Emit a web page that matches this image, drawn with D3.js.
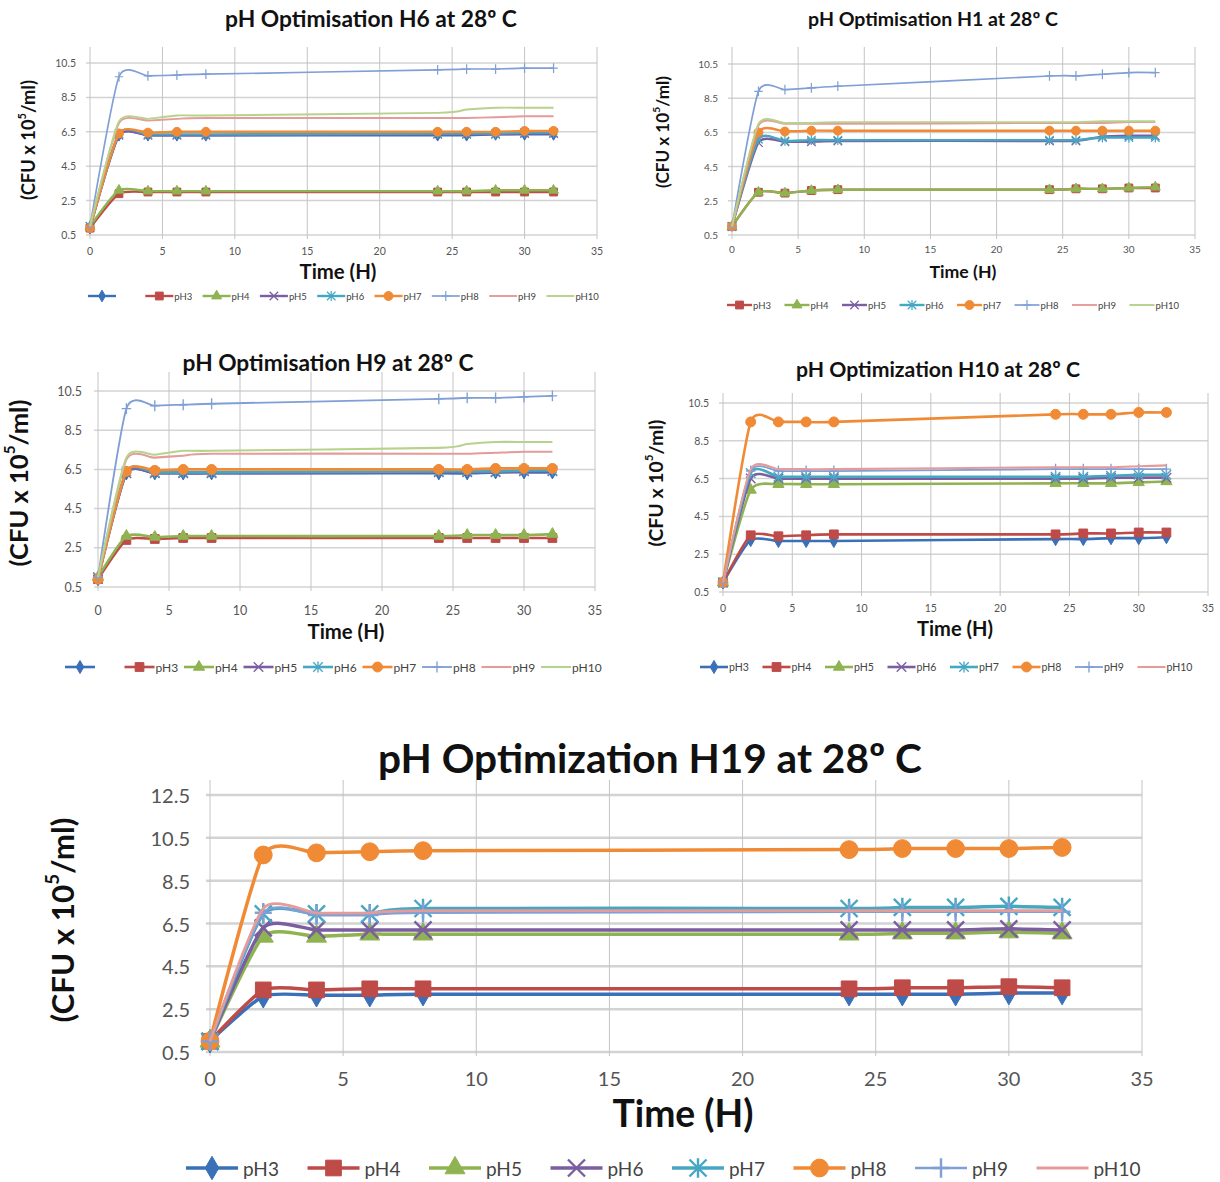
<!DOCTYPE html>
<html>
<head>
<meta charset="utf-8">
<script src="https://cdn.jsdelivr.net/npm/d3@7"></script>
<style>
body { margin: 0; background: #fff; }
text { font-family: Lato, "Open Sans", sans-serif; }
</style>
</head>
<body>
<svg id="fig" width="1220" height="1182"></svg>
<script>
// sampling times (hours) shared by every chart
var times = [0, 2, 4, 6, 8, 24, 26, 28, 30, 32];
var xTicks = [0, 5, 10, 15, 20, 25, 30, 35];
var yTicksSmall = [0.5, 2.5, 4.5, 6.5, 8.5, 10.5];
var yTicksBig = [0.5, 2.5, 4.5, 6.5, 8.5, 10.5, 12.5];

// H6 and H9 have an unnamed first series in their legends
var namesH6 = ["", "pH3", "pH4", "pH5", "pH6", "pH7", "pH8", "pH9", "pH10"];
var namesPH = ["pH3", "pH4", "pH5", "pH6", "pH7", "pH8", "pH9", "pH10"];

var h6 = [
    [0.9, 6.3, 6.3, 6.3, 6.3, 6.3, 6.3, 6.35, 6.35, 6.35],
    [0.9, 2.9, 3.0, 3.0, 3.0, 3.0, 3.0, 3.0, 3.0, 3.0],
    [1.0, 3.1, 3.05, 3.05, 3.05, 3.05, 3.05, 3.1, 3.1, 3.1],
    [1.0, 6.3, 6.3, 6.3, 6.3, 6.35, 6.35, 6.35, 6.4, 6.4],
    [1.0, 6.4, 6.35, 6.35, 6.35, 6.4, 6.4, 6.4, 6.45, 6.45],
    [0.9, 6.4, 6.45, 6.5, 6.5, 6.5, 6.5, 6.5, 6.55, 6.55],
    [1.0, 9.7, 9.75, 9.8, 9.85, 10.1, 10.15, 10.15, 10.2, 10.2],
    [1.0, 7.0, 7.15, 7.25, 7.3, 7.3, 7.3, 7.35, 7.4, 7.4],
    [1.0, 7.1, 7.25, 7.45, 7.45, 7.6, 7.8, 7.9, 7.9, 7.9]
];

var h1 = [
    [1.0, 3.0, 2.95, 3.1, 3.15, 3.15, 3.2, 3.2, 3.25, 3.25],
    [1.0, 3.0, 2.95, 3.1, 3.15, 3.15, 3.2, 3.2, 3.25, 3.3],
    [1.0, 5.9, 5.95, 5.95, 6.0, 6.0, 6.0, 6.25, 6.3, 6.3],
    [1.0, 6.1, 6.0, 6.05, 6.05, 6.05, 6.05, 6.2, 6.2, 6.2],
    [1.0, 6.5, 6.55, 6.6, 6.6, 6.6, 6.6, 6.6, 6.6, 6.6],
    [1.0, 8.9, 9.0, 9.1, 9.2, 9.8, 9.8, 9.9, 10.0, 10.0],
    [1.0, 6.9, 7.0, 7.0, 7.0, 7.05, 7.05, 7.05, 7.1, 7.1],
    [1.0, 7.0, 7.05, 7.05, 7.1, 7.1, 7.1, 7.15, 7.15, 7.15]
];

var h9 = [
    [0.9, 6.3, 6.3, 6.3, 6.3, 6.3, 6.3, 6.35, 6.35, 6.35],
    [0.9, 2.9, 2.95, 3.0, 3.0, 3.0, 3.0, 3.0, 3.0, 3.0],
    [1.0, 3.1, 3.05, 3.1, 3.1, 3.1, 3.15, 3.15, 3.15, 3.2],
    [1.0, 6.3, 6.3, 6.3, 6.3, 6.35, 6.35, 6.35, 6.4, 6.4],
    [1.0, 6.4, 6.35, 6.35, 6.35, 6.4, 6.4, 6.4, 6.45, 6.45],
    [0.9, 6.4, 6.45, 6.5, 6.5, 6.5, 6.5, 6.55, 6.55, 6.55],
    [1.0, 9.6, 9.75, 9.8, 9.85, 10.1, 10.15, 10.15, 10.2, 10.25],
    [1.0, 7.0, 7.1, 7.2, 7.3, 7.3, 7.3, 7.35, 7.4, 7.4],
    [1.0, 7.1, 7.25, 7.45, 7.45, 7.6, 7.8, 7.9, 7.9, 7.9]
];

var h10 = [
    [1.0, 3.25, 3.2, 3.2, 3.2, 3.3, 3.3, 3.35, 3.35, 3.4],
    [1.0, 3.5, 3.45, 3.5, 3.55, 3.55, 3.6, 3.6, 3.65, 3.65],
    [1.0, 5.9, 6.2, 6.2, 6.2, 6.25, 6.25, 6.25, 6.3, 6.35],
    [1.0, 6.5, 6.5, 6.5, 6.5, 6.5, 6.5, 6.55, 6.55, 6.55],
    [1.0, 6.8, 6.6, 6.6, 6.6, 6.6, 6.6, 6.65, 6.7, 6.7],
    [1.0, 9.5, 9.5, 9.5, 9.5, 9.9, 9.9, 9.9, 10.0, 10.0],
    [1.0, 6.9, 6.9, 6.9, 6.9, 7.0, 7.0, 7.0, 7.0, 7.0],
    [1.0, 7.0, 7.0, 7.0, 7.0, 7.1, 7.1, 7.1, 7.15, 7.2]
];

var h19 = [
    [1.0, 3.1, 3.15, 3.15, 3.2, 3.2, 3.2, 3.2, 3.25, 3.25],
    [1.0, 3.4, 3.4, 3.45, 3.45, 3.45, 3.5, 3.5, 3.55, 3.5],
    [1.0, 5.9, 5.9, 6.0, 6.0, 6.0, 6.05, 6.05, 6.1, 6.05],
    [1.0, 6.3, 6.2, 6.2, 6.2, 6.2, 6.2, 6.2, 6.25, 6.2],
    [1.0, 6.95, 6.95, 6.95, 7.2, 7.2, 7.25, 7.25, 7.3, 7.25],
    [1.0, 9.7, 9.8, 9.85, 9.9, 9.95, 10.0, 10.0, 10.0, 10.05],
    [1.0, 7.0, 6.9, 6.9, 7.0, 7.05, 7.05, 7.05, 7.05, 7.05],
    [1.0, 7.2, 7.0, 7.0, 7.1, 7.1, 7.1, 7.1, 7.1, 7.1]
];

// Excel-like series styles, in order
var styles = [
    { color: "#3a70b8", marker: "diamond", w: 1 },
    { color: "#be4b48", marker: "square", w: 1 },
    { color: "#8fb351", marker: "triangle", w: 1 },
    { color: "#7b5ea0", marker: "x", w: 1 },
    { color: "#46a7c3", marker: "star", w: 1 },
    { color: "#f08a35", marker: "circle", w: 1 },
    { color: "#7f9fd6", marker: "plus", w: 0.7 },
    { color: "#e39c9a", marker: null, w: 0.8 },
    { color: "#b6d28c", marker: null, w: 0.8 }
];

var svg = d3.select("#fig");

function fitText(t, w) {
    var l = t.node().getComputedTextLength();
    var fs = parseFloat(t.attr("font-size"));
    t.attr("font-size", fs * w / l);
}

function drawMarker(g, type, x, y, s, color) {
    var r = s / 2;
    if (!type) return;
    if (type == "x" || type == "star" || type == "plus") {
        var p = "";
        if (type != "plus") p += "M" + (-r) + "," + (-r) + "L" + r + "," + r + "M" + (-r) + "," + r + "L" + r + "," + (-r);
        if (type != "x") p += "M0," + (-r * 1.15) + "L0," + (r * 1.15);
        if (type == "plus") p += "M" + (-r) + ",0L" + r + ",0";
        g.append("path").attr("d", p)
            .attr("transform", "translate(" + x + "," + y + ")")
            .attr("fill", "none").attr("stroke", color)
            .attr("stroke-width", Math.max(1.2, s / 7));
        return;
    }
    var sym = { diamond: d3.symbolDiamond, square: d3.symbolSquare, triangle: d3.symbolTriangle, circle: d3.symbolCircle }[type];
    var area = { diamond: s * s * 0.55, square: s * s * 0.85, triangle: s * s * 0.6, circle: Math.PI * r * r * 1.1 }[type];
    g.append("path").attr("d", d3.symbol().type(sym).size(area)())
        .attr("transform", "translate(" + x + "," + y + ")")
        .attr("fill", color).attr("stroke", color).attr("stroke-width", 1);
}

function yLabel(g, c) {
    var t = g.append("text")
        .attr("transform", "translate(" + c.ylab.x + "," + c.ylab.y + ") rotate(-90)")
        .attr("text-anchor", "middle").attr("dominant-baseline", "central")
        .attr("font-weight", "bold").attr("font-size", 16).attr("fill", "#111");
    t.append("tspan").text("(CFU x 10");
    t.append("tspan").attr("font-size", "0.6em").attr("dy", "-0.6em").text("5");
    t.append("tspan").attr("dy", "0.36em").text("/ml)");
    fitText(t, c.ylab.w);
}

function drawChart(c) {
    var g = svg.append("g");
    var x = d3.scaleLinear().domain([0, 35]).range([c.x0, c.x1]);
    var y = d3.scaleLinear().domain([c.yTicks[0], c.yTicks[c.yTicks.length - 1]]).range([c.yA, c.yB]);

    // grid
    g.selectAll(".hg").data(c.yTicks).enter().append("line")
        .attr("x1", c.x0 - 4).attr("x2", c.x1)
        .attr("y1", function(d) { return y(d); }).attr("y2", function(d) { return y(d); })
        .attr("stroke", "#d3d3d3").attr("stroke-width", c.gw);
    g.selectAll(".vg").data(xTicks).enter().append("line")
        .attr("x1", function(d) { return x(d); }).attr("x2", function(d) { return x(d); })
        .attr("y1", c.top).attr("y2", c.yA + 4)
        .attr("stroke", "#c4c4c4").attr("stroke-width", 1);

    // tick labels
    g.selectAll(".yt").data(c.yTicks).enter().append("text")
        .attr("x", c.x0 - c.tickPad).attr("y", function(d) { return y(d); })
        .attr("text-anchor", "end").attr("dominant-baseline", "central")
        .attr("font-size", c.tickFs).attr("fill", "#555")
        .text(function(d) { return d.toFixed(1); });
    g.selectAll(".xt").data(xTicks).enter().append("text")
        .attr("x", function(d) { return x(d); }).attr("y", c.tickY)
        .attr("text-anchor", "middle").attr("dominant-baseline", "central")
        .attr("font-size", c.tickFs).attr("fill", "#555")
        .text(function(d) { return d; });

    // titles
    var t = g.append("text").attr("x", c.tx).attr("y", c.ty)
        .attr("text-anchor", "middle").attr("dominant-baseline", "central")
        .attr("font-weight", "bold").attr("font-size", 18).attr("fill", "#111")
        .text(c.title);
    fitText(t, c.tw);
    var xl = g.append("text").attr("x", c.xlab.x).attr("y", c.xlab.y)
        .attr("text-anchor", "middle").attr("dominant-baseline", "central")
        .attr("font-weight", "bold").attr("font-size", 16).attr("fill", "#111")
        .text("Time (H)");
    fitText(xl, c.xlab.w);
    yLabel(g, c);

    // series, smoothed like Excel
    var line = d3.line()
        .x(function(d, i) { return x(times[i]); })
        .y(function(d) { return y(d); })
        .curve(d3.curveCardinal.tension(0.4));
    c.data.forEach(function(vals, k) {
        var st = styles[k + c.offset];
        var sg = g.append("g");
        sg.append("path").attr("d", line(vals))
            .attr("fill", "none").attr("stroke", st.color)
            .attr("stroke-width", c.lw * st.w);
        vals.forEach(function(v, i) {
            drawMarker(sg, st.marker, x(times[i]), y(v), c.ms, st.color);
        });
    });

    // legend
    c.names.forEach(function(n, k) {
        var st = styles[k + c.offset];
        var lx = c.leg.x + k * c.leg.step;
        g.append("line").attr("x1", lx).attr("x2", lx + c.leg.len)
            .attr("y1", c.leg.y).attr("y2", c.leg.y)
            .attr("stroke", st.color).attr("stroke-width", c.lw * st.w);
        drawMarker(g, st.marker, lx + c.leg.len / 2, c.leg.y, c.ms, st.color);
        g.append("text").attr("x", lx + c.leg.len + c.leg.gap).attr("y", c.leg.y)
            .attr("dominant-baseline", "central")
            .attr("font-size", c.leg.fs).attr("fill", "#444")
            .text(n);
    });
}

var charts = [
    { title: "pH Optimisation H6 at 28º C", data: h6, names: namesH6, offset: 0,
      x0: 90, x1: 597, yA: 235, yB: 63, top: 47, yTicks: yTicksSmall,
      tx: 371, ty: 18, tw: 292, xlab: { x: 338, y: 271, w: 77 }, ylab: { x: 28, y: 140, w: 120 },
      tickFs: 10.5, tickPad: 14, tickY: 251, gw: 1.5, lw: 2.4, ms: 8.5,
      leg: { x: 88, y: 296, step: 57.3, len: 28, gap: 1, fs: 9.5 } },
    { title: "pH Optimisation H1 at 28º C", data: h1, names: namesPH, offset: 1,
      x0: 732, x1: 1195, yA: 235, yB: 64, top: 47, yTicks: yTicksSmall,
      tx: 933, ty: 18, tw: 250, xlab: { x: 963, y: 271, w: 67 }, ylab: { x: 662, y: 132, w: 112 },
      tickFs: 10, tickPad: 14, tickY: 249, gw: 1.5, lw: 2.4, ms: 8.5,
      leg: { x: 727, y: 305, step: 57.5, len: 25, gap: 1, fs: 9.5 } },
    { title: "pH Optimisation H9 at 28º C", data: h9, names: namesH6, offset: 0,
      x0: 98, x1: 595, yA: 587, yB: 391, top: 372, yTicks: yTicksSmall,
      tx: 328, ty: 362, tw: 291, xlab: { x: 346, y: 631, w: 77 }, ylab: { x: 18, y: 483, w: 167 },
      tickFs: 12.5, tickPad: 16, tickY: 610, gw: 1.5, lw: 2.6, ms: 9.5,
      leg: { x: 65, y: 667, step: 59.5, len: 30, gap: 1, fs: 12 } },
    { title: "pH Optimization H10 at 28º C", data: h10, names: namesPH, offset: 0,
      x0: 723, x1: 1208, yA: 592, yB: 403, top: 393, yTicks: yTicksSmall,
      tx: 938, ty: 369, tw: 284, xlab: { x: 955, y: 628, w: 76 }, ylab: { x: 655, y: 483, w: 127 },
      tickFs: 10.5, tickPad: 14, tickY: 608, gw: 1.5, lw: 2.6, ms: 9.5,
      leg: { x: 700, y: 667, step: 62.5, len: 28, gap: 1, fs: 10.5 } },
    { title: "pH Optimization H19 at 28º C", data: h19, names: namesPH, offset: 0,
      x0: 210, x1: 1142, yA: 1052, yB: 795, top: 780, yTicks: yTicksBig,
      tx: 650, ty: 757, tw: 544, xlab: { x: 683, y: 1112, w: 141 }, ylab: { x: 62, y: 920, w: 205 },
      tickFs: 20, tickPad: 20, tickY: 1078, gw: 2.5, lw: 3.5, ms: 17,
      leg: { x: 186, y: 1168, step: 121.5, len: 52, gap: 5, fs: 19 } }
];

charts.forEach(drawChart);
</script>
</body>
</html>
